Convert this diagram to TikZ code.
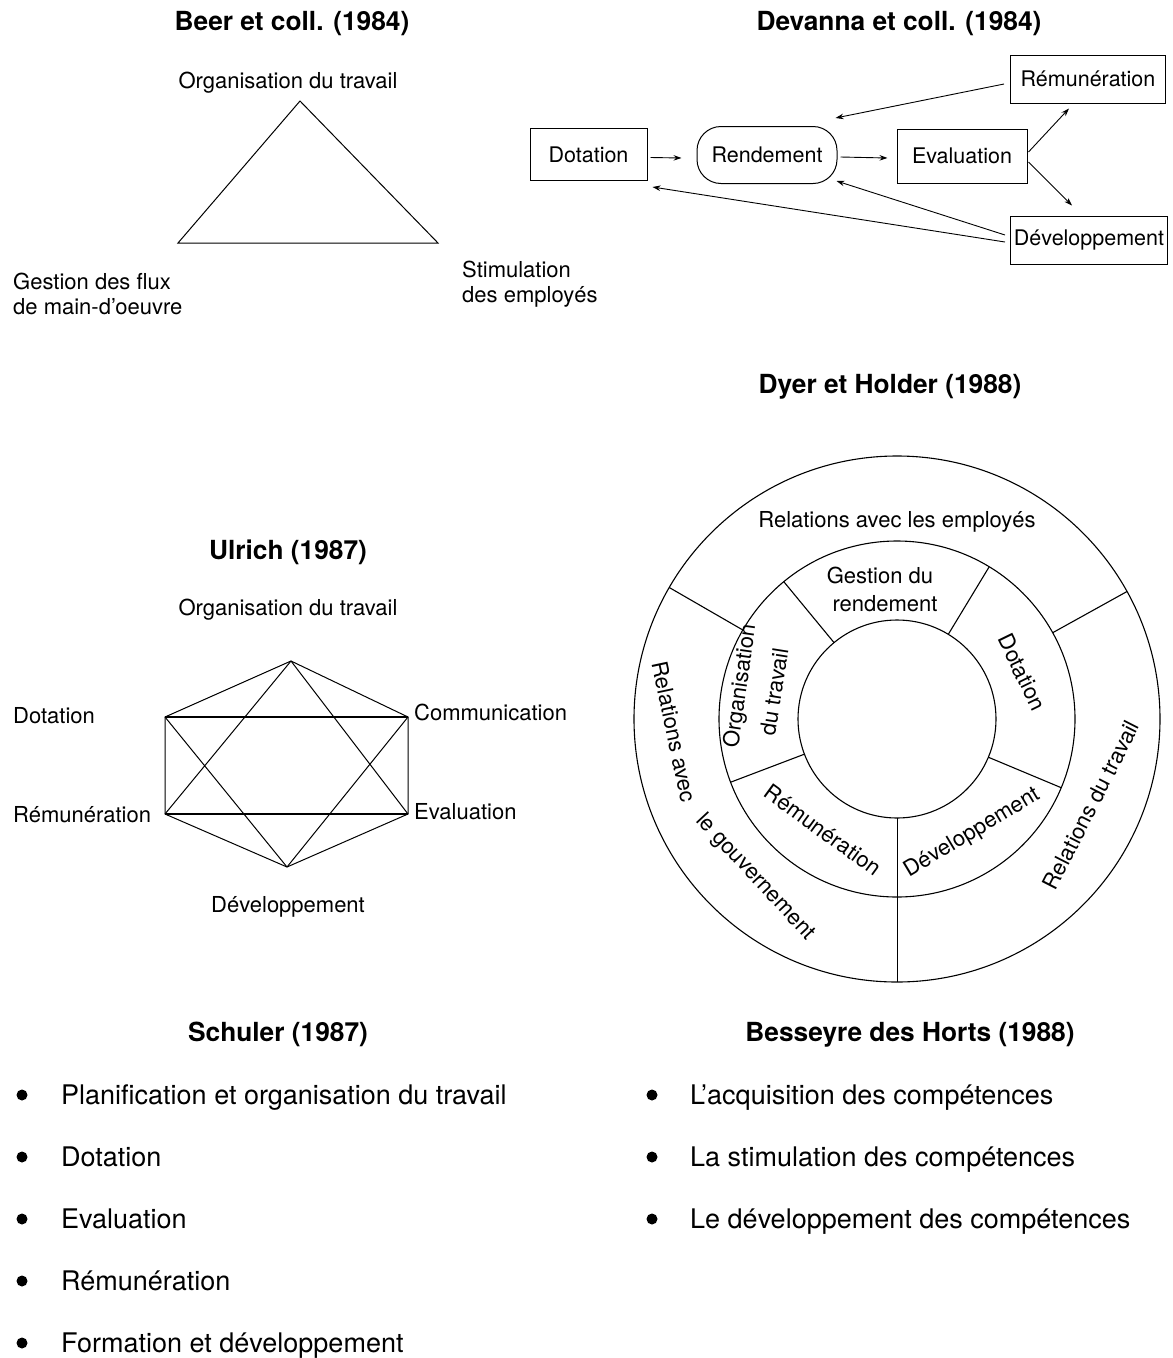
\documentclass[tikz,border=0pt]{standalone}
\usepackage{fontspec}
\setmainfont{TeX Gyre Heros}
\usetikzlibrary{arrows.meta,calc}

\begin{document}
\begin{tikzpicture}[x=1pt,y=-1pt,
  title/.style={font=\fontsize{26.3}{30}\selectfont\bfseries, inner sep=0pt, anchor=base},
  lbl/.style={font=\fontsize{22}{25}\selectfont, inner sep=0pt},
  item/.style={font=\fontsize{27}{30}\selectfont, inner sep=0pt, anchor=base west},
  bullet/.style={circle, fill=black, inner sep=0pt, minimum size=11pt},
  box/.style={draw, line width=1pt, inner sep=0pt, font=\fontsize{21.5}{25}\selectfont},
  arr/.style={line width=0.9pt, -{Stealth[length=8pt,width=5.5pt]}},
  edge/.style={line width=1pt},
  heavy/.style={line width=2pt},
  ring/.style={line width=1.1pt},
  spoke/.style={line width=0.8pt},
]
\useasboundingbox (0,0) rectangle (1173,1358);

% ---------- Beer et coll. (1984): triangle ----------
\node[title] (t-beer) at (292,30) {Beer et coll. (1984)};
\coordinate (b-top) at (300,101);
\coordinate (b-left) at (178,243);
\coordinate (b-right) at (438,243);
\draw[edge] (b-top) -- (b-left) -- (b-right) -- cycle;
\node[lbl, anchor=base] (b-org) at (288,88) {Organisation du travail};
\node[lbl, anchor=base west] (b-flux1) at (13,289) {Gestion des flux};
\node[lbl, anchor=base west] (b-flux2) at (13,314) {de main-d'oeuvre};
\node[lbl, anchor=base west] (b-stim1) at (462,277) {Stimulation};
\node[lbl, anchor=base west] (b-stim2) at (462,302) {des employés};

% ---------- Devanna et coll. (1984): flow ----------
\node[title] (t-dev) at (899,30) {Devanna et coll. (1984)};
\node[box, minimum width=117pt, minimum height=52pt] (dot) at (588.5,154.5) {Dotation};
\node[box, rounded corners=24pt, minimum width=140pt, minimum height=57pt] (ren) at (767,155) {Rendement};
\node[box, minimum width=130pt, minimum height=54pt] (eva) at (962,156) {Evaluation};
\node[box, minimum width=155pt, minimum height=48pt] (rem) at (1088,79) {Rémunération};
\node[box, minimum width=157pt, minimum height=48pt] (dvp) at (1089,240) {Développement};

\draw[arr] ([shift={(3,3)}]dot.east) -- ([shift={(-15,3)}]ren.west);
\draw[arr] ([shift={(3,2)}]ren.east) -- ([shift={(-9,2)}]eva.west);
\draw[arr] ([shift={(1,-4)}]eva.east) -- ([shift={(-19,5)}]rem.south);
\draw[arr] ([shift={(1,6)}]eva.east) -- ([shift={(-17,-10)}]dvp.north);
\draw[arr] ([shift={(-6,5)}]rem.west) -- ([shift={(-2,-8)}]ren.north east);
\draw[arr] ([shift={(-5,-5)}]dvp.west) -- ([shift={(-1,-3)}]ren.south east);
\draw[arr] ([shift={(-5,2)}]dvp.west) -- ([shift={(5,6)}]dot.south east);

% ---------- Ulrich (1987): hexagon ----------
\node[title] (t-ulr) at (288,559) {Ulrich (1987)};
\coordinate (u-top) at (291,661);
\coordinate (u-ul) at (165,717);
\coordinate (u-ur) at (408,717);
\coordinate (u-ll) at (165,814);
\coordinate (u-lr) at (408,814);
\coordinate (u-bot) at (287,867);
\draw[edge] (u-top) -- (u-ur) -- (u-lr) -- (u-bot) -- (u-ll) -- (u-ul) -- cycle;
\draw[edge] (u-top) -- (u-ll) (u-top) -- (u-lr) (u-bot) -- (u-ul) (u-bot) -- (u-ur);
\draw[heavy] (u-ul) -- (u-ur) (u-ll) -- (u-lr);
\node[lbl, anchor=base] (u-org) at (288,615) {Organisation du travail};
\node[lbl, anchor=base west] (u-dot) at (13,723) {Dotation};
\node[lbl, anchor=base west] (u-com) at (414,720) {Communication};
\node[lbl, anchor=base west] (u-rem) at (13,822) {Rémunération};
\node[lbl, anchor=base west] (u-eva) at (414,819) {Evaluation};
\node[lbl, anchor=base] (u-dev) at (288,912) {Développement};

% ---------- Dyer et Holder (1988): rings ----------
\node[title] (t-dyer) at (890,393) {Dyer et Holder (1988)};
\coordinate (c) at (897,719);
\draw[ring] (c) circle[radius=99] (c) circle[radius=178] (c) circle[radius=263];
\foreach \a in {-129.5,-58.8,159.2,22.7}
  \draw[ring] ($(c)+(\a:99)$) -- ($(c)+(\a:178)$);
\foreach \a in {-150,-29}
  \draw[ring] ($(c)+(\a:178)$) -- ($(c)+(\a:263)$);
\draw[spoke] ($(c)+(90:99)$) -- ($(c)+(90:263)$);

\node[lbl] (d-emp) at (897,522) {Relations avec les employés};
\node[lbl, anchor=base] (d-ges1) at (880,583) {Gestion du};
\node[lbl, anchor=base] (d-ges2) at (885,611) {rendement};
\node[lbl, rotate=82] (d-org1) at (741,686) {Organisation};
\node[lbl, rotate=81] (d-org2) at (774,692) {du travail};
\node[lbl, rotate=-64] (d-dot) at (1022,672) {Dotation};
\node[lbl, rotate=-36] (d-rem) at (823,830) {Rémunération};
\node[lbl, rotate=31] (d-dvp) at (972,833) {Développement};
\node[lbl, rotate=-78] (d-gov1) at (674,732) {Relations avec};
\node[lbl, rotate=-47] (d-gov2) at (755,877) {le gouvernement};
\node[lbl, rotate=63] (d-trav) at (1091,805) {Relations du travail};

% ---------- Schuler (1987): list ----------
\node[title] (t-sch) at (278,1041) {Schuler (1987)};
\node[bullet] (s1) at (22,1095) {};
\node[bullet] (s2) at (22,1157) {};
\node[bullet] (s3) at (22,1219) {};
\node[bullet] (s4) at (22,1281) {};
\node[bullet] (s5) at (22,1343) {};
\node[item] (s1t) at (61,1104) {Planification et organisation du travail};
\node[item] (s2t) at (61,1166) {Dotation};
\node[item] (s3t) at (61,1228) {Evaluation};
\node[item] (s4t) at (61,1290) {Rémunération};
\node[item] (s5t) at (61,1352) {Formation et développement};

% ---------- Besseyre des Horts (1988): list ----------
\node[title] (t-bes) at (910,1041) {Besseyre des Horts (1988)};
\node[bullet] (h1) at (652,1095) {};
\node[bullet] (h2) at (652,1157) {};
\node[bullet] (h3) at (652,1219) {};
\node[item] (h1t) at (690,1104) {L’acquisition des compétences};
\node[item] (h2t) at (690,1166) {La stimulation des compétences};
\node[item] (h3t) at (690,1228) {Le développement des compétences};
\end{tikzpicture}
\end{document}
